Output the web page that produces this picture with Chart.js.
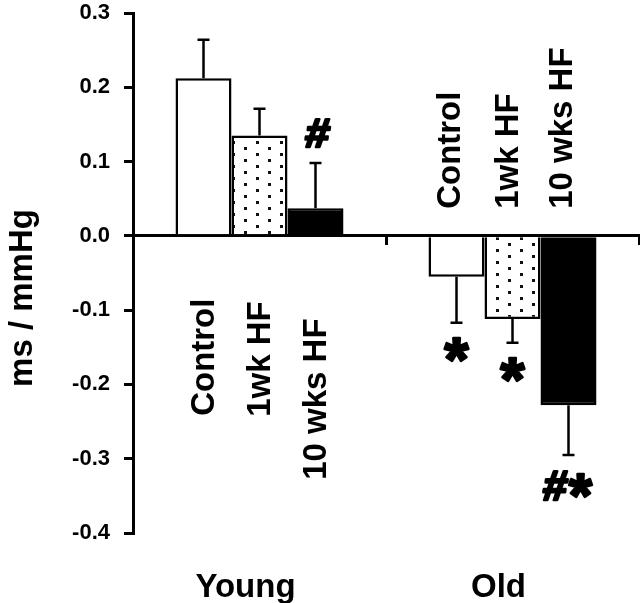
<!DOCTYPE html>
<html>
<head>
<meta charset="utf-8">
<script src="https://cdn.jsdelivr.net/npm/chart.js@4.4.0/dist/chart.umd.min.js"></script>
<style>
  html, body { margin: 0; padding: 0; background: #fff; }
  #wrap { width: 640px; height: 603px; position: relative; }
</style>
</head>
<body>
<div id="wrap"><canvas id="chart"></canvas></div>
<script>
// Data
const groups = ['Young', 'Old'];
const seriesNames = ['Control', '1wk HF', '10 wks HF'];
const controlMeans = [0.212, -0.055];
const oneWeekMeans = [0.135, -0.112];
const tenWeekMeans = [0.037, -0.228];
const controlSem = [0.052, 0.062];
const oneWeekSem = [0.036, 0.032];
const tenWeekSem = [0.061, 0.067];
const controlMarks = ['', '*'];
const oneWeekMarks = ['', '*'];
const tenWeekMarks = ['#', '#*'];
const yTicks = [-0.4, -0.3, -0.2, -0.1, 0.0, 0.1, 0.2, 0.3];

const FONT = '"Liberation Sans", Arial, sans-serif';

// rotated series labels, per group: offset from bar centre / zero line
const labelPlace = [
  [{ dx: 10, dy: 180 }, { dx: 10, dy: 181 }, { dx: 11, dy: 244 }],
  [{ dx: 3, dy: -27 }, { dx: 5, dy: -27 }, { dx: 4, dy: -27 }]
];

function dotPattern() {
  const c = document.createElement('canvas');
  c.width = 24; c.height = 12;
  const g = c.getContext('2d');
  g.fillStyle = '#fff';
  g.fillRect(0, 0, 24, 12);
  g.fillStyle = '#111';
  g.fillRect(4, 3, 3, 3);
  g.fillRect(16, 9, 3, 3);
  return g.createPattern(c, 'repeat');
}

// draw a glyph squeezed into a w x h box centred on cx, cy
function drawFitted(ctx, text, cx, cy, w, h, slant) {
  ctx.save();
  ctx.font = 'bold 100px ' + FONT;
  const m = ctx.measureText(text);
  const gw = m.actualBoundingBoxLeft + m.actualBoundingBoxRight;
  const gh = m.actualBoundingBoxAscent + m.actualBoundingBoxDescent;
  ctx.translate(cx, cy);
  if (slant) ctx.transform(1, 0, -slant, 1, 0, 0);
  const sx = w / gw, sy = h / gh;
  ctx.scale(sx, sy);
  ctx.textAlign = 'left';
  ctx.textBaseline = 'alphabetic';
  ctx.fillStyle = '#000';
  ctx.strokeStyle = '#000';
  ctx.lineJoin = 'round';
  ctx.lineWidth = 2.6 / Math.min(sx, sy);
  const x0 = -gw / 2 + m.actualBoundingBoxLeft;
  const y0 = -gh / 2 + m.actualBoundingBoxAscent;
  ctx.fillText(text, x0, y0);
  ctx.strokeText(text, x0, y0);
  ctx.restore();
}

const errorBars = {
  id: 'errorBars',
  afterDatasetsDraw(chart) {
    const ctx = chart.ctx;
    const y = chart.scales.y;
    ctx.save();
    ctx.strokeStyle = '#000';
    ctx.lineWidth = 2.5;
    chart.data.datasets.forEach((ds, i) => {
      chart.getDatasetMeta(i).data.forEach((bar, j) => {
        const v = ds.data[j];
        const end = y.getPixelForValue(v + Math.sign(v) * ds.sem[j]);
        ctx.beginPath();
        ctx.moveTo(bar.x, bar.y);
        ctx.lineTo(bar.x, end);
        ctx.moveTo(bar.x - 6, end);
        ctx.lineTo(bar.x + 6, end);
        ctx.stroke();

        // significance marks beyond the error bar
        const mark = ds.marks[j];
        if (!mark) return;
        const up = v > 0;
        const gap = 15;
        if (mark === '#*') {
          const h = 31;
          const cy = up ? end - gap - h / 2 : end + gap + h / 2;
          drawFitted(ctx, '#', bar.x - 13, cy, 23, 29, 0.12);
          drawFitted(ctx, '*', bar.x + 12, cy, 23, 23);
        } else if (mark === '#') {
          const h = 30;
          const cy = up ? end - gap - h / 2 : end + gap + h / 2;
          drawFitted(ctx, '#', bar.x + 2, cy, 23, 28, 0.12);
        } else {
          const h = 24;
          const cy = up ? end - gap - h / 2 : end + gap + h / 2;
          drawFitted(ctx, '*', bar.x, cy, 24, 23);
        }
      });
    });
    ctx.restore();
  }
};

const textLabels = {
  id: 'textLabels',
  afterDraw(chart) {
    const ctx = chart.ctx;
    const zero = chart.scales.y.getPixelForValue(0);
    ctx.save();
    ctx.fillStyle = '#000';
    ctx.font = 'bold 33px ' + FONT;
    ctx.textBaseline = 'alphabetic';
    ctx.textAlign = 'left';
    chart.data.datasets.forEach((ds, i) => {
      chart.getDatasetMeta(i).data.forEach((bar, j) => {
        const p = labelPlace[j][i];
        ctx.save();
        ctx.translate(bar.x + p.dx, zero + p.dy);
        ctx.rotate(-Math.PI / 2);
        ctx.fillText(ds.label, 0, 0);
        ctx.restore();
      });
    });
    // y axis title
    ctx.translate(32, 298);
    ctx.rotate(-Math.PI / 2);
    ctx.textAlign = 'center';
    ctx.fillText('ms / mmHg', 0, 0);
    ctx.restore();
  }
};

const barStyle = { borderColor: '#000', borderWidth: 2.5, borderSkipped: 'start', inflateAmount: 0 };

const ctx = document.getElementById('chart');
new Chart(ctx, {
  type: 'bar',
  data: {
    labels: groups,
    datasets: [
      { label: seriesNames[0], data: controlMeans, sem: controlSem, marks: controlMarks, backgroundColor: '#fff', ...barStyle },
      { label: seriesNames[1], data: oneWeekMeans, sem: oneWeekSem, marks: oneWeekMarks, backgroundColor: dotPattern(), ...barStyle },
      { label: seriesNames[2], data: tenWeekMeans, sem: tenWeekSem, marks: tenWeekMarks, backgroundColor: '#000', ...barStyle }
    ]
  },
  options: {
    responsive: true,
    maintainAspectRatio: false,
    animation: false,
    devicePixelRatio: 1,
    layout: { padding: { top: 13, right: 1, left: 0, bottom: 0 } },
    datasets: { bar: { categoryPercentage: 0.664, barPercentage: 1.0 } },
    plugins: {
      legend: { display: false },
      tooltip: { enabled: false }
    },
    scales: {
      x: {
        type: 'category',
        position: 'bottom',
        offset: true,
        grid: { display: false },
        border: { display: false },
        ticks: {
          color: '#000',
          font: { family: FONT, size: 33, weight: 'bold' },
          padding: 27,
          labelOffset: -14,
          maxRotation: 0
        },
        afterFit(scale) { scale.height = 70; }
      },
      x2: {
        type: 'category',
        position: { y: 0 },
        offset: true,
        ticks: { display: false },
        grid: {
          offset: true,
          drawOnChartArea: false,
          drawTicks: true,
          tickLength: 8,
          color: '#000',
          lineWidth: 3
        },
        border: { display: true, color: '#000', width: 3 },
        afterFit(scale) { scale.paddingTop = 0; scale.paddingBottom = 0; }
      },
      y: {
        min: -0.4,
        max: 0.3,
        afterBuildTicks(scale) { scale.ticks = yTicks.map(v => ({ value: v })); },
        ticks: {
          color: '#000',
          font: { family: FONT, size: 22, weight: 'bold' },
          padding: 14,
          callback: v => v.toFixed(1)
        },
        grid: {
          drawOnChartArea: false,
          drawTicks: true,
          tickLength: 9,
          color: '#000',
          lineWidth: 3
        },
        border: { display: true, color: '#000', width: 3 },
        afterFit(scale) { scale.width = 133; scale.paddingTop = 0; scale.paddingBottom = 0; }
      }
    }
  },
  plugins: [errorBars, textLabels]
});
</script>
</body>
</html>
